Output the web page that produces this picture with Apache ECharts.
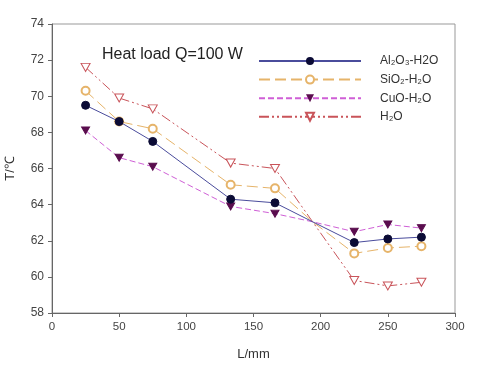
<!DOCTYPE html>
<html><head><meta charset="utf-8">
<script src="https://cdn.jsdelivr.net/npm/echarts@6/dist/echarts.min.js"></script>
<style>html,body{margin:0;padding:0;background:#fff}#c{width:480px;height:366px}</style>
</head><body><div id="c"></div>
<script>
const xValues = [25, 50, 75, 133, 166, 194, 225, 250, 275];
const crossIndex = 5;
const al2o3 = [69.5, 68.6, 67.5, 64.3, 64.1, 63.05, 61.9, 62.1, 62.2];
const sio2 = [70.3, 68.6, 68.2, 65.1, 64.9, 63.05, 61.3, 61.6, 61.7];
const cuo = [68.1, 66.6, 66.1, 63.9, 63.5, 63.05, 62.5, 62.9, 62.7];
const h2o = [71.6, 69.9, 69.3, 66.3, 66.0, 63.05, 59.8, 59.5, 59.7];
const seriesNames = ['Al₂O₃-H2O', 'SiO₂-H₂O', 'CuO-H₂O', 'H₂O'];
const xTicks = [0, 50, 100, 150, 200, 250, 300];
const yTicks = [58, 60, 62, 64, 66, 68, 70, 72, 74];

function pts(vals) {
  return xValues.map((x, i) => i === crossIndex ? {value: [x, vals[i]], symbol: 'none'} : [x, vals[i]]);
}
const font = 'Liberation Sans, Arial, sans-serif';
const chart = echarts.init(document.getElementById('c'), null, {renderer: 'canvas'});
chart.setOption({
  animation: false,
  backgroundColor: '#fff',
  title: {
    text: 'Heat load Q=100 W', left: 97, top: 42,
    textStyle: {fontFamily: font, fontSize: 16, fontWeight: 'normal', color: '#222'}
  },
  legend: {
    orient: 'vertical', left: 253, top: 50, itemWidth: 102, itemHeight: 10, itemGap: 6.6,
    data: seriesNames,
    textStyle: {fontFamily: font, fontSize: 12, color: '#333', padding: [0, 0, 0, 14]}
  },
  grid: {left: 52, right: 25, top: 24, bottom: 53, show: true, borderColor: '#999', borderWidth: 1,
         containLabel: false, outerBoundsMode: 'none'},
  xAxis: {
    type: 'value', min: xTicks[0], max: xTicks[xTicks.length - 1], interval: 50,
    name: 'L/mm', nameLocation: 'middle', nameGap: 35,
    nameTextStyle: {fontFamily: font, fontSize: 13, color: '#333'},
    axisLine: {lineStyle: {color: '#666'}},
    axisTick: {inside: false, length: 4, lineStyle: {color: '#666'}},
    axisLabel: {fontFamily: font, fontSize: 11.5, color: '#444', margin: 8},
    splitLine: {show: false}
  },
  yAxis: {
    type: 'value', min: yTicks[0], max: yTicks[yTicks.length - 1], interval: 2,
    name: 'T/℃', nameLocation: 'middle', nameGap: 35,
    nameTextStyle: {fontFamily: font, fontSize: 13, color: '#333'},
    axisLine: {show: true, lineStyle: {color: '#666'}},
    axisTick: {show: true, inside: false, length: 4, lineStyle: {color: '#666'}},
    axisLabel: {fontFamily: font, fontSize: 12, color: '#444', margin: 8},
    splitLine: {show: false}
  },
  series: [
    {name: seriesNames[0], type: 'line', data: pts(al2o3), symbol: 'circle', symbolSize: 8,
     lineStyle: {color: '#4a4c9c', width: 1}, itemStyle: {color: '#0b0b35', borderColor: '#0b0b35'}, z: 5},
    {name: seriesNames[1], type: 'line', data: pts(sio2), symbol: 'emptyCircle', symbolSize: 8,
     lineStyle: {color: '#e6b46a', width: 1, type: [11, 5]}, itemStyle: {color: '#e6b46a', borderWidth: 1}, z: 4},
    {name: seriesNames[2], type: 'line', data: pts(cuo), symbol: 'path://M0,0 L10,0 L5,9 Z', symbolSize: [8, 7],
     lineStyle: {color: '#cf5fd6', width: 1, type: [6, 3]}, itemStyle: {color: '#5a0d4e', borderColor: '#5a0d4e'}, z: 3},
    {name: seriesNames[3], type: 'line', data: pts(h2o), symbol: 'path://M0,0 L10,0 L5,9 Z', symbolSize: [9, 8],
     lineStyle: {color: '#c9545a', width: 1, type: [10, 3, 2, 3, 2, 3]},
     itemStyle: {color: '#fff', borderColor: '#c9545a', borderWidth: 1}, z: 2}
  ]
});
</script></body></html>
